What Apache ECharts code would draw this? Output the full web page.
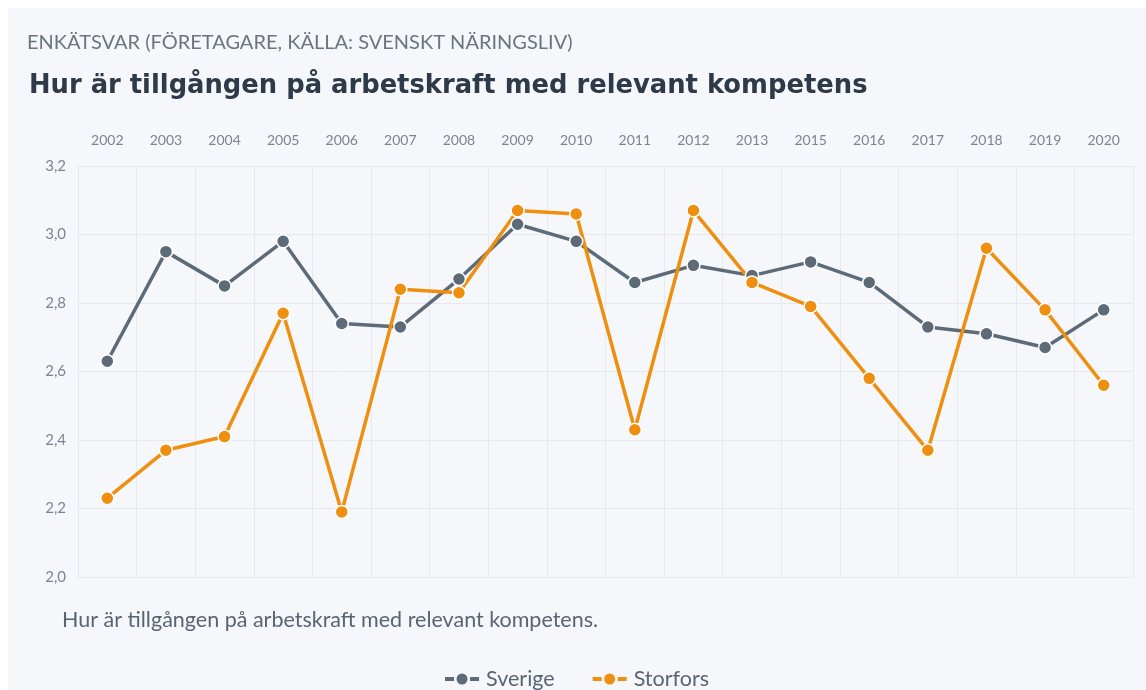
<!DOCTYPE html>
<html>
<head>
<meta charset="utf-8">
<script src="https://cdn.jsdelivr.net/npm/echarts@6/dist/echarts.min.js"></script>
<style>
  html, body { margin: 0; padding: 0; background: #ffffff; }
  #chart { position: absolute; left: 8px; top: 8px; width: 1138px; height: 682px; background: #f5f7fa; }
</style>
</head>
<body>
<div id="chart"></div>
<script>
  const years = ['2002', '2003', '2004', '2005', '2006', '2007', '2008', '2009', '2010',
    '2011', '2012', '2013', '2015', '2016', '2017', '2018', '2019', '2020'];
  const sverige = [2.63, 2.95, 2.85, 2.98, 2.74, 2.73, 2.87, 3.03, 2.98,
    2.86, 2.91, 2.88, 2.92, 2.86, 2.73, 2.71, 2.67, 2.78];
  const storfors = [2.23, 2.37, 2.41, 2.77, 2.19, 2.84, 2.83, 3.07, 3.06,
    2.43, 3.07, 2.86, 2.79, 2.58, 2.37, 2.96, 2.78, 2.56];

  const GRAY = '#5d6b79';
  const ORANGE = '#ef8f0f';
  // dash - dot - dash marker used in the legend
  const LEGEND_ICON = 'path://M0,4H9V8H0Z M25,4H34V8H25Z M17,0.5A5.5,5.5 0 1 1 17,11.5A5.5,5.5 0 1 1 17,0.5Z';

  const chart = echarts.init(document.getElementById('chart'));

  function lineSeries(name, data, color) {
    return {
      name,
      type: 'line',
      data,
      symbol: 'circle',
      symbolSize: 13,
      showSymbol: true,
      lineStyle: { color, width: 3.5 },
      itemStyle: { color, borderColor: '#ffffff', borderWidth: 1.5 },
      emphasis: { disabled: true },
    };
  }

  chart.setOption({
    animation: false,
    textStyle: { fontFamily: 'Lato' },
    title: [
      {
        text: 'ENKÄTSVAR (FÖRETAGARE, KÄLLA: SVENSKT NÄRINGSLIV)',
        left: 14,
        top: 20,
        textStyle: { fontFamily: 'Lato', fontSize: 20, fontWeight: 'normal', color: '#6b7580' },
      },
      {
        text: 'Hur är tillgången på arbetskraft med relevant kompetens',
        left: 16,
        top: 60,
        textStyle: { fontFamily: 'DejaVu Sans', fontSize: 25.8, fontWeight: 'bold', color: '#2e3a47' },
      },
      {
        text: 'Hur är tillgången på arbetskraft med relevant kompetens.',
        left: 49,
        top: 596,
        textStyle: { fontFamily: 'Lato', fontSize: 21.5, fontWeight: 'normal', color: '#5a6572' },
      },
    ],
    legend: {
      top: 655,
      left: 'center',
      icon: LEGEND_ICON,
      itemWidth: 34,
      itemHeight: 12,
      itemGap: 38,
      itemStyle: { borderWidth: 0 },
      textStyle: { fontFamily: 'Lato', fontSize: 21.5, color: '#5a6572', padding: [0, 0, 0, 2] },
      data: ['Sverige', 'Storfors'],
    },
    grid: { left: 70, right: 13, top: 158, bottom: 113 },
    xAxis: {
      type: 'category',
      position: 'top',
      data: years,
      boundaryGap: true,
      axisLine: { show: false },
      axisTick: { show: false },
      axisLabel: { color: '#7b8591', fontSize: 14, margin: 19 },
      splitLine: { show: true, lineStyle: { color: '#e6e9ed', width: 1 } },
    },
    yAxis: {
      type: 'value',
      min: 2,
      max: 3.2,
      interval: 0.2,
      axisLine: { show: false },
      axisTick: { show: false },
      axisLabel: {
        color: '#7b8591',
        fontSize: 15,
        margin: 12,
        formatter: v => v.toFixed(1).replace('.', ','),
      },
      splitLine: { show: true, lineStyle: { color: '#e6e9ed', width: 1 } },
    },
    series: [
      lineSeries('Sverige', sverige, GRAY),
      lineSeries('Storfors', storfors, ORANGE),
    ],
  });
</script>
</body>
</html>
